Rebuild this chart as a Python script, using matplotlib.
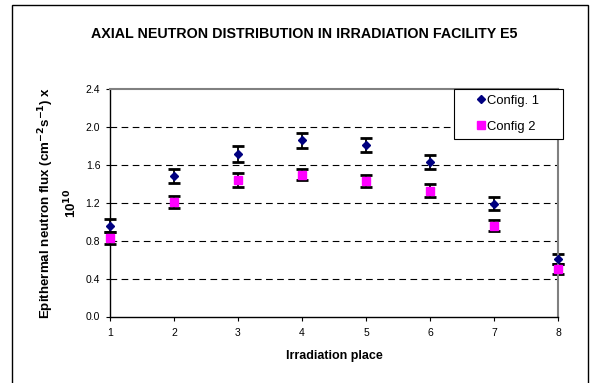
import matplotlib
matplotlib.use('Agg')
import matplotlib.pyplot as plt
from matplotlib.patches import Rectangle

plt.rcParams['font.family'] = ['Liberation Sans', 'DejaVu Sans']

places = [1, 2, 3, 4, 5, 6, 7, 8]
config1 = [0.96, 1.48, 1.72, 1.86, 1.81, 1.63, 1.19, 0.61]
config1_err = [0.065, 0.075, 0.085, 0.077, 0.075, 0.076, 0.07, 0.053]
config2 = [0.83, 1.21, 1.44, 1.50, 1.43, 1.33, 0.96, 0.50]
config2_err = [0.06, 0.068, 0.074, 0.063, 0.065, 0.07, 0.058, 0.05]
yticks = [0.0, 0.4, 0.8, 1.2, 1.6, 2.0, 2.4]


def main():
    W, H = 596, 383
    fig = plt.figure(figsize=(W / 100, H / 100), dpi=100)
    ax = fig.add_axes([110 / W, 1 - 316.5 / H, 448 / W, 227.2 / H])

    # outer chart frame (bottom edge is cut off in the original)
    fig.patches.append(Rectangle((12 / W, -0.05), 576 / W, 1.05 - 5.5 / H,
                                 transform=fig.transFigure, fill=False,
                                 edgecolor='black', linewidth=1.0))

    # dashed gridlines
    for y in yticks[1:-1]:
        ax.axhline(y, color='black', linestyle=(0, (6, 4)), linewidth=0.8, zorder=1)

    ax.errorbar(places, config1, yerr=config1_err, fmt='none', ecolor='black',
                elinewidth=1.3, capsize=4, capthick=2.0, zorder=2, clip_on=False)
    ax.errorbar(places, config2, yerr=config2_err, fmt='none', ecolor='black',
                elinewidth=1.3, capsize=4, capthick=2.0, zorder=2, clip_on=False)
    ax.plot(places, config1, linestyle='none', marker='D', markersize=4.2,
            color='#000080', label='Config. 1', zorder=3, clip_on=False)
    ax.plot(places, config2, linestyle='none', marker='s', markersize=5.2,
            color='#ff00ff', label='Config 2', zorder=3, clip_on=False)

    ax.set_xlim(1, 8)
    ax.set_ylim(0, 2.4)
    ax.set_xticks(places)
    ax.set_yticks(yticks)
    ax.set_yticklabels([f"{v:.1f}" for v in yticks])
    ax.tick_params(axis='both', labelsize=7.5, length=3, width=0.8, direction='out', pad=4)
    ax.tick_params(axis='x', pad=5)

    for side in ['top', 'right']:
        ax.spines[side].set_color('#808080')
        ax.spines[side].set_linewidth(1.5)
    for side in ['left', 'bottom']:
        ax.spines[side].set_color('black')
        ax.spines[side].set_linewidth(1.0)

    fig.text(304 / W, 1 - 34 / H, 'AXIAL NEUTRON DISTRIBUTION IN IRRADIATION FACILITY E5',
             ha='center', va='center', fontsize=10.3, fontweight='bold')
    ax.set_xlabel('Irradiation place', fontsize=9, fontweight='bold', labelpad=9)
    ax.set_ylabel('Epithermal neutron flux (cm$^{\\mathbf{-2}}$s$^{\\mathbf{-1}}$) x\n'
                  '10$^{\\mathbf{10}}$', fontsize=9.6, fontweight='bold',
                  linespacing=1.45)
    ax.yaxis.set_label_coords(-0.069, 0.5)

    leg = ax.legend(loc='upper left', bbox_to_anchor=(454 / W, 1 - 142 / H, 109 / W, 53 / H),
                    bbox_transform=fig.transFigure, mode='expand', frameon=True,
                    framealpha=1, fancybox=False, fontsize=9.4, handlelength=3.2,
                    handletextpad=-1.15, borderpad=0.45, labelspacing=1.05,
                    borderaxespad=0)
    leg.get_frame().set_edgecolor('black')
    leg.get_frame().set_linewidth(0.8)
    leg.set_zorder(5)

    plt.savefig('out.png', dpi=100)


if __name__ == "__main__":
    main()
